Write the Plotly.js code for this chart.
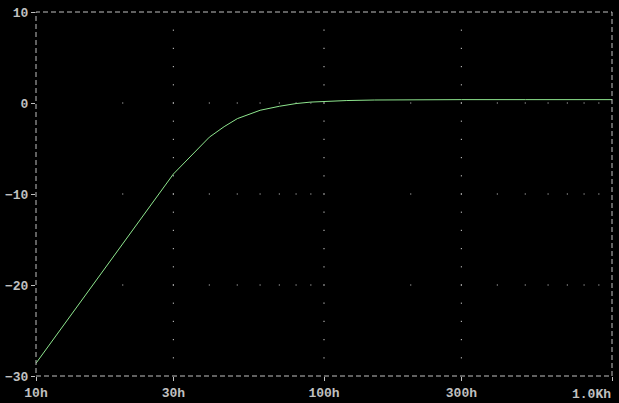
<!DOCTYPE html>
<html>
<head>
<meta charset="utf-8">
<script src="https://cdn.plot.ly/plotly-3.0.1.min.js"></script>
<style>
html,body{margin:0;padding:0;background:#000;}
#chart{width:619px;height:403px;}
</style>
</head>
<body>
<div id="chart"></div>
<script>
// Frequency response (Hz) and gain (dB)
const freqHz = [10, 20, 30, 40, 45, 50, 55, 60, 70, 80, 90, 100, 120, 150, 200, 300, 500, 1000];
const gainDb = [-28.6, -15.4, -7.8, -3.75, -2.6, -1.72, -1.2, -0.8, -0.36, -0.06, 0.1, 0.18, 0.27, 0.33, 0.36, 0.37, 0.37, 0.37];

// Axis ticks
const xTickVals = [10, 30, 100, 300, 1000];
const xTickText = ["10h", "30h", "100h", "300h", "1.0Kh"];
const yTickVals = [10, 0, -10, -20, -30];

// Dotted grid: vertical lines at these x, dotted every 2 dB
const gridX = [30, 100, 300];
const gridXDotsY = [-28, -26, -24, -22, -20, -18, -16, -14, -12, -10, -8, -6, -4, -2, 0, 2, 4, 6, 8];
// horizontal lines at these y, dotted at the minor log positions
const gridY = [0, -10, -20];
const gridYDotsX = [20, 30, 40, 50, 60, 70, 80, 90, 100, 200, 300, 400, 500, 600, 700, 800, 900];

const dotX = [], dotY = [];
gridX.forEach(x => gridXDotsY.forEach(y => { dotX.push(x); dotY.push(y); }));
gridY.forEach(y => gridYDotsX.forEach(x => { dotX.push(x); dotY.push(y); }));

const gray = "#c0c0c0";
const font = {family: "Liberation Mono, DejaVu Sans Mono, monospace", size: 13, color: gray, weight: "bold"};

// last label is right-aligned to the plot edge, so it is drawn as an annotation
const axisTickText = xTickText.slice(0, -1).concat([""]);
const lastIdx = xTickVals.length - 1;

const traces = [
  {
    x: dotX, y: dotY, type: "scatter", mode: "markers",
    marker: {symbol: "square", size: 1.2, color: "#b0b0b0", line: {width: 0}},
    hoverinfo: "skip", showlegend: false
  },
  {
    x: freqHz, y: gainDb, type: "scatter", mode: "lines",
    line: {color: "#8ee68e", width: 1},
    showlegend: false
  }
];

const layout = {
  width: 619, height: 403,
  margin: {l: 36, r: 7, t: 12, b: 27, pad: 0},
  paper_bgcolor: "#000", plot_bgcolor: "#000",
  font: font,
  showlegend: false,
  xaxis: {
    type: "log", range: [1, 3],
    tickmode: "array", tickvals: xTickVals, ticktext: axisTickText,
    showgrid: false, zeroline: false, showline: false,
    ticks: "outside", ticklen: 4, tickwidth: 1, tickcolor: gray,
    tickfont: font
  },
  yaxis: {
    range: [-30, 10],
    tickmode: "array", tickvals: yTickVals,
    showgrid: false, zeroline: false, showline: false,
    ticks: "outside", ticklen: 4, tickwidth: 1, tickcolor: gray,
    tickfont: font
  },
  annotations: [{
    x: Math.log10(xTickVals[lastIdx]), xref: "x", xanchor: "right",
    y: 0, yref: "paper", yanchor: "top", yshift: -10,
    text: xTickText[lastIdx], showarrow: false, font: font, borderpad: 0
  }],
  shapes: [{
    type: "rect", xref: "paper", yref: "paper", x0: 0, x1: 1, y0: 0, y1: 1,
    line: {color: gray, width: 1, dash: "5px,3px"}, layer: "above"
  }]
};

Plotly.newPlot("chart", traces, layout, {staticPlot: true, displayModeBar: false});
</script>
</body>
</html>
